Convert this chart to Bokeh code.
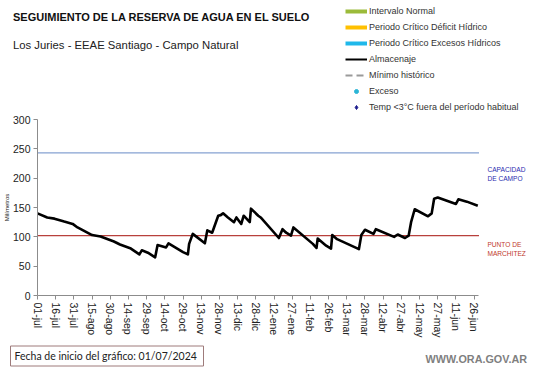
import math
from bokeh.plotting import figure
from bokeh.models import (Range1d, FixedTicker, Label, Legend, LegendItem,
                          ColumnDataSource)
from bokeh.layouts import column
from bokeh.embed import file_html
from bokeh.resources import INLINE

# ---------------- data ----------------
tick_days = [0, 15, 30, 45, 60, 75, 90, 105, 120, 135, 150, 165, 180, 195, 210,
             225, 240, 255, 270, 285, 300, 315, 330, 345, 360]
tick_labels = ["01-jul", "16-jul", "31-jul", "15-ago", "30-ago", "14-sep", "29-sep",
               "14-oct", "29-oct", "13-nov", "28-nov", "13-dic", "28-dic", "12-ene",
               "27-ene", "11-feb", "26-feb", "13-mar", "28-mar", "12-abr", "27-abr",
               "12-may", "27-may", "11-jun", "26-jun"]

almac_days = [0, 8, 14, 22, 29, 33, 45, 52, 63, 68, 77, 84, 86, 91, 97, 99, 106, 108,
              120, 124, 125, 128, 138, 140, 144, 149, 151, 153, 157, 162, 164, 168, 170,
              175, 176, 182, 184, 199, 202, 205, 209, 211, 227, 230, 231, 238, 242, 243,
              247, 265, 267, 270, 277, 279, 294, 297, 303, 306, 308, 311, 322, 325, 327,
              330, 345, 347, 354, 363]
almac_vals = [140, 133, 131, 126, 122, 116, 103, 100.5, 92, 87, 80, 70, 77, 73, 65, 86,
              82, 89, 74, 70, 88, 105, 89, 111, 107, 136, 137, 140, 133, 125, 133, 122,
              136, 125, 148, 136, 133, 98, 113, 107, 102, 116, 88, 81, 97, 85, 80, 103,
              96, 79, 103, 112, 105, 113, 100, 104, 98, 102, 125, 147, 135, 140, 165,
              167, 156, 164, 160, 153]

capacidad_campo = 243
punto_marchitez = 102
season_days = [0, 364]          # 01-jul-2024 .. 30-jun-2025

y_ticks = [0, 50, 100, 150, 200, 250, 300]
Y_MAX = 300

legend_labels = ["Intervalo Normal", "Periodo Crítico Déficit Hídrico",
                 "Periodo Crítico Excesos Hídricos", "Almacenaje", "Mínimo histórico",
                 "Exceso", "Temp <3°C fuera del período habitual"]

FONT = "Liberation Sans"
W = 541
BL = 33


def no_frame_align(f):
    try:
        f.frame_align = False
    except Exception:
        pass


def bare_panel(h):
    f = figure(width=W, height=h, output_backend="svg", toolbar_location=None,
               x_range=Range1d(0, W), y_range=Range1d(h, 0),
               x_axis_location=None, y_axis_location=None,
               min_border_left=0, min_border_right=0,
               min_border_top=0, min_border_bottom=0)
    f.outline_line_color = None
    f.grid.visible = False
    no_frame_align(f)
    return f


def text_left(fig, x, y, text, size, color="#111111", style="normal", font=FONT, **kw):
    fig.add_layout(Label(x=x, y=y, text=text, text_font=font, text_font_size=size,
                         text_color=color, text_font_style=style,
                         text_baseline="middle", text_align="left", **kw))


# ================= top panel: titles + legend =================
HA = 112
pa = bare_panel(HA)

text_left(pa, 12.5, 16, "SEGUIMIENTO DE LA RESERVA DE AGUA EN EL SUELO", "11px",
          style="bold")
text_left(pa, 12.5, 44, "Los Juries  - EEAE Santiago - Campo Natural", "11.3px",
          color="#222222")

nan_src = ColumnDataSource(dict(x=[math.nan], y=[math.nan]))
r_norm = pa.line("x", "y", source=nan_src, line_color="#9bbb3a", line_width=4)
r_def = pa.line("x", "y", source=nan_src, line_color="#ffc000", line_width=4)
r_exc = pa.line("x", "y", source=nan_src, line_color="#1fb8ea", line_width=4)
r_alm_l = pa.line("x", "y", source=nan_src, line_color="black", line_width=2)
r_min = pa.line("x", "y", source=nan_src, line_color="#9a9a9a", line_width=2,
                line_dash="7 4")
r_exceso = pa.scatter("x", "y", source=nan_src, marker="circle", size=3,
                      fill_color="#2bb5d6", line_color="#2bb5d6")
r_temp = pa.scatter("x", "y", source=nan_src, marker="diamond", size=6,
                    fill_color="#1a1a8c", line_color="#1a1a8c")
rends = [r_norm, r_def, r_exc, r_alm_l, r_min, r_exceso, r_temp]

legend = Legend(items=[LegendItem(label=l, renderers=[r])
                       for l, r in zip(legend_labels, rends)])
legend.location = (345, 0)
legend.orientation = "vertical"
legend.padding = 0
legend.margin = 0
legend.spacing = 6
legend.glyph_height = 10
legend.label_height = 10
legend.glyph_width = 22
legend.label_standoff = 2
legend.border_line_color = None
legend.background_fill_alpha = 0
legend.label_text_font = FONT
legend.label_text_font_size = "9px"
legend.label_text_color = "#333333"
pa.add_layout(legend, "center")

# ================= main chart =================
BT, BB = 7, 43
HB = BT + 178 + BB
FW = W - BL
AXIS_W = 445                    # pixel length of the x axis
x_end = season_days[1] * FW / AXIS_W

pb = figure(width=W, height=HB, output_backend="svg", toolbar_location=None,
            x_range=Range1d(0, x_end), y_range=Range1d(0, Y_MAX),
            min_border_left=BL, min_border_right=0, min_border_top=BT,
            min_border_bottom=BB)
pb.outline_line_color = None
pb.grid.visible = False
no_frame_align(pb)

for ax in (pb.xaxis, pb.yaxis):
    ax.axis_line_color = "#8c8c8c"
    ax.major_tick_line_color = "#8c8c8c"
    ax.minor_tick_line_color = None
    ax.major_tick_in = 0
    ax.major_tick_out = 4
    ax.major_label_text_font = FONT
    ax.major_label_text_color = "#222222"

pb.xaxis.bounds = (season_days[0], season_days[1])
pb.xaxis.ticker = FixedTicker(ticks=tick_days)
pb.xaxis.major_label_overrides = {d: l for d, l in zip(tick_days, tick_labels)}
pb.xaxis.major_label_orientation = "vertical"
pb.xaxis.major_label_text_font_size = "10.5px"
pb.xaxis.major_label_standoff = 3

pb.yaxis.ticker = FixedTicker(ticks=y_ticks)
pb.yaxis.major_label_text_font_size = "10.5px"
pb.yaxis.major_label_standoff = 3
pb.yaxis.axis_label = "Milímetros"
pb.yaxis.axis_label_text_font_size = "6px"
pb.yaxis.axis_label_text_font = FONT
pb.yaxis.axis_label_text_font_style = "normal"
pb.yaxis.axis_label_text_color = "#222222"
pb.yaxis.axis_label_standoff = 0

pb.line(season_days, [capacidad_campo] * 2, line_color="#86a2d2", line_width=1.3)
pb.line(season_days, [punto_marchitez] * 2, line_color="#b8403c", line_width=1.3)

src = ColumnDataSource(dict(x=almac_days, y=almac_vals))
pb.line("x", "y", source=src, line_color="black", line_width=2.6, line_join="round")

FH = HB - BT - BB


def bx(page_x):
    return (page_x - BL) * x_end / FW


def by(page_y):
    return (HA + BT + FH - page_y) * Y_MAX / FH


for txt, py, col in [("CAPACIDAD", 170, "#2b2bb0"),
                     ("DE  CAMPO", 179, "#2b2bb0"),
                     ("PUNTO   DE", 245.5, "#c0392b"),
                     ("MARCHITEZ", 254.5, "#c0392b")]:
    pb.add_layout(Label(x=bx(486.5), y=by(py), text=txt, text_font=FONT,
                        text_font_size="6.6px", text_color=col,
                        text_baseline="middle", text_align="left"))

# ================= footer =================
HC = 368 - HA - HB
pc = bare_panel(HC)

text_left(pc, 10, 355.5 - (HA + HB), "Fecha de inicio del gráfico:  01/07/2024",
          "10.5px", color="#222222", font="Lato",
          border_line_color="#9e7b7b", border_line_width=1, padding=4,
          background_fill_color="white")
text_left(pc, 425, 358 - (HA + HB), "WWW.ORA.GOV.AR", "10.8px", color="#7f7f7f",
          style="bold")

layout = column(pa, pb, pc, spacing=0)
open("out.html", "w").write(file_html(layout, INLINE))
